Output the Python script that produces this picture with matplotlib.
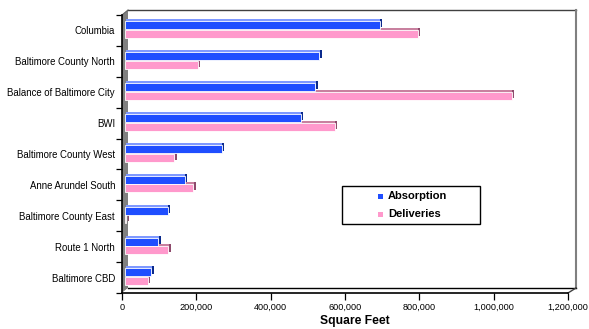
import matplotlib
matplotlib.use("Agg")
import matplotlib.pyplot as plt
from matplotlib.patches import Polygon, Rectangle
from matplotlib.lines import Line2D
from matplotlib.transforms import offset_copy
from matplotlib.ticker import FuncFormatter

plt.rcParams['font.family'] = ['Liberation Sans', 'DejaVu Sans']

# Submarkets, top to bottom
categories = ["Columbia", "Baltimore County North", "Balance of Baltimore City",
              "BWI", "Baltimore County West", "Anne Arundel South",
              "Baltimore County East", "Route 1 North", "Baltimore CBD"]
absorption = [686000, 522000, 512000, 473000, 260000, 161000, 115000, 90000, 70000]
deliveries = [787000, 196000, 1041000, 565000, 132000, 184000, 4000, 117000, 61000]
x_ticks = [0, 200000, 400000, 600000, 800000, 1000000, 1200000]
series_names = ["Absorption", "Deliveries"]

W, H = 589, 329
fig = plt.figure(figsize=(W / 100, H / 100), dpi=100)
fig.patch.set_facecolor("white")


def fx(x):
    return x / W


def fy(y):
    return 1 - y / H


def fpoly(pts, **kw):
    return Polygon([(fx(x), fy(y)) for x, y in pts], closed=True,
                   transform=fig.transFigure, **kw)


def fline(xs, ys, **kw):
    fig.add_artist(Line2D([fx(x) for x in xs], [fy(y) for y in ys],
                          transform=fig.transFigure, **kw))


# Walls and floor of the 3-D frame
fig.add_artist(fpoly([(128, 10), (576, 10), (576, 288), (128, 288)],
                     facecolor="white", edgecolor="none", zorder=-2))
fig.add_artist(fpoly([(122, 15), (128, 10), (128, 288), (122, 293)],
                     facecolor="#808080", edgecolor="none", zorder=-1))
fig.add_artist(fpoly([(122, 293), (128, 288), (576, 288), (568, 293)],
                     facecolor="white", edgecolor="none", zorder=-1))
fline([128, 576], [10, 10], color="#404040", lw=1.0, zorder=-0.5)
fline([576, 576], [10, 288], color="#808080", lw=1.5, zorder=-0.5)
fline([128, 576], [288, 288], color="black", lw=1.0, zorder=-0.5)
fline([576, 568], [288, 293], color="#404040", lw=1.0, zorder=-0.5)
fline([122, 128], [15, 10], color="#606060", lw=0.8, zorder=-0.5)

ax = fig.add_axes([fx(122), fy(293), (568 - 122) / W, (293 - 15) / H])
ax.set_facecolor("none")
n = len(categories)
ax.set_xlim(0, 1200000)
ax.set_ylim(n - 0.5, -0.5)

for s in ["top", "right"]:
    ax.spines[s].set_visible(False)
ax.spines["left"].set_color("black")
ax.spines["left"].set_linewidth(1.2)
ax.spines["bottom"].set_color("black")
ax.spines["bottom"].set_linewidth(1.2)

ax.set_xticks(x_ticks)
ax.xaxis.set_major_formatter(FuncFormatter(lambda v, p: f"{int(v):,}"))
ax.tick_params(axis="x", direction="out", length=5, width=0.9,
               labelsize=6.6, pad=2)
ax.set_yticks(range(n))
ax.set_yticklabels(categories)
ax.set_yticks([i - 0.5 for i in range(n + 1)], minor=True)
ax.tick_params(axis="y", which="major", length=0, labelsize=6.9, pad=5)
ax.tick_params(axis="y", which="minor", direction="out", length=4, width=0.9)
ax.set_xlabel("Square Feet", fontsize=8.7, fontweight="bold")
ax.xaxis.label.set_va("center")
ax.xaxis.set_label_coords(0.522, -(321 - 293) / (293 - 15))

# Extruded bars: back (side colour), top face, then front face
bar_h = 0.26
series = [
    (absorption, -0.165, "#1F4EFF", "#7F99FF", "#0A2A8C"),
    (deliveries, 0.115, "#FF99CC", "#C8809F", "#8E4A6C"),
]
base = offset_copy(ax.transData, fig=fig, x=3, y=0, units="dots")
side_t = offset_copy(ax.transData, fig=fig, x=5.5, y=2, units="dots")
top_t = offset_copy(ax.transData, fig=fig, x=3.5, y=2, units="dots")
ys = list(range(n))
for vals, off, front, top, side in series:
    pos = [y + off for y in ys]
    ax.barh(pos, vals, height=bar_h, color=side, edgecolor="none",
            transform=side_t, clip_on=False, zorder=2)
    ax.barh(pos, vals, height=bar_h, color=top, edgecolor="none",
            transform=top_t, clip_on=False, zorder=2.1)
    ax.barh(pos, vals, height=bar_h, color=front, edgecolor="white",
            linewidth=0.6, transform=base, clip_on=False, zorder=2.2)

# Legend box
fig.add_artist(Rectangle((fx(342), fy(224)), (480 - 342) / W, (224 - 186) / H,
                         transform=fig.transFigure, facecolor="white",
                         edgecolor="black", linewidth=1.0, zorder=5))
for name, color, yy in [(series_names[0], "#1F4EFF", 196),
                        (series_names[1], "#FF99CC", 214)]:
    fig.add_artist(Rectangle((fx(378), fy(yy + 2.5)), 5 / W, 5 / H,
                             transform=fig.transFigure, facecolor=color,
                             edgecolor="none", zorder=6))
    fig.text(fx(388), fy(yy), name, fontsize=8, fontweight="bold",
             ha="left", va="center", zorder=6)

fig.savefig("out.png", dpi=100)
